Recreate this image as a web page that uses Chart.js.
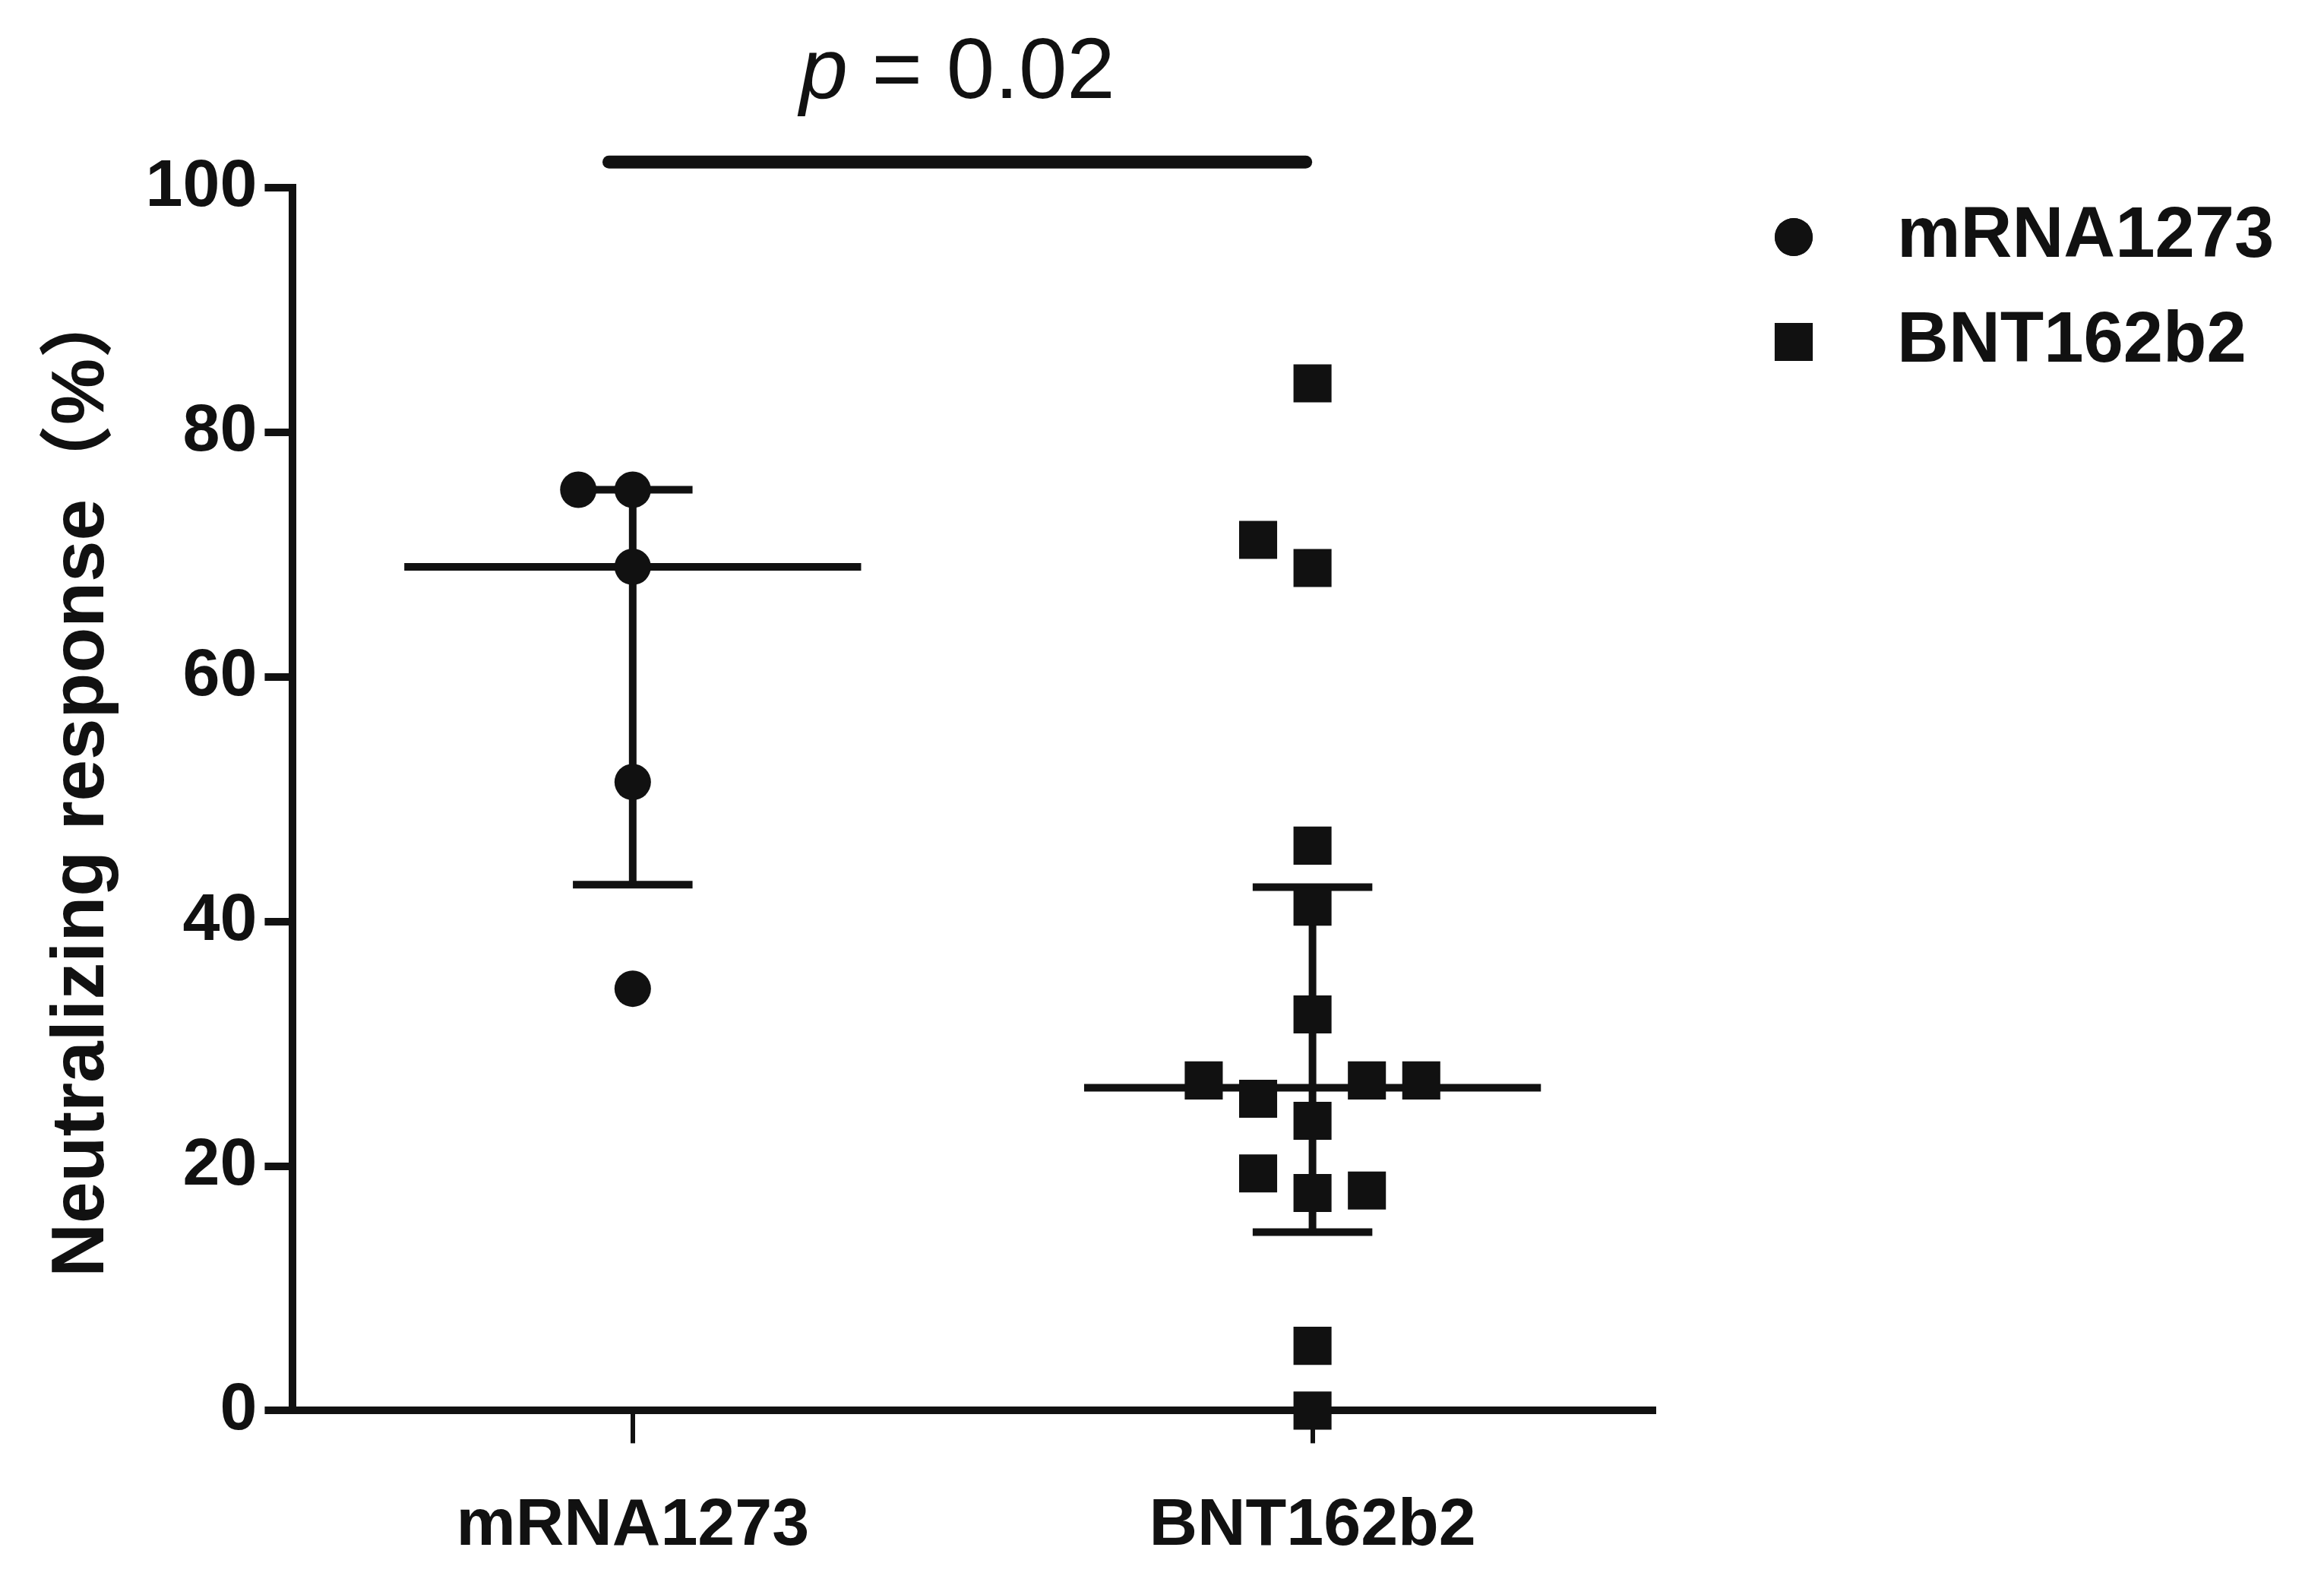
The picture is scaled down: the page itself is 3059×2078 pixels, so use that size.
<!DOCTYPE html>
<html>
<head>
<meta charset="utf-8">
<style>
  html, body { margin: 0; padding: 0; background: #fff; }
  canvas { display: block; }
</style>
</head>
<body>
<canvas id="chart" width="3059" height="2078"></canvas>
<script src="https://cdn.jsdelivr.net/npm/chart.js@4.4.1/dist/chart.umd.min.js"></script>
<script>
// ===== DATA =====
const groups = ["mRNA1273", "BNT162b2"];
const groupPos = [1, 2];
const mrnaValues = [75.3, 75.3, 69.0, 51.4, 34.5];
const mrnaJitter = [-0.08, 0, 0, 0, 0];
const bntValues = [84.0, 71.2, 68.9, 46.2, 41.2, 32.4, 27.0, 25.5, 27.0, 27.0, 23.7, 19.4, 17.8, 18.0, 5.3, 0];
const bntJitter = [0, -0.08, 0, 0, 0, 0, -0.16, -0.08, 0.08, 0.16, 0, -0.08, 0, 0.08, 0, 0];
const medians = [69.0, 26.4];
const q1 = [43.0, 14.6];
const q3 = [75.3, 42.8];
const yTicks = [0, 20, 40, 60, 80, 100];
const sigSpan = [0.965, 1.99];
const sigLevel = 102.1;
const pText = "0.02";

// ===== STYLE =====
const INK = "#111";
const FONT = "'Liberation Sans', Arial, 'Noto Sans CJK SC', sans-serif";
const MEDIAN_HALF = 0.336;
const CAP_HALF = 0.088;

function segment(x1, y1, x2, y2, width, cap) {
  return {
    data: [{ x: x1, y: y1 }, { x: x2, y: y2 }],
    showLine: true,
    borderColor: INK,
    borderWidth: width,
    borderCapStyle: cap || "butt",
    pointRadius: 0,
    clip: false,
    order: 2,
  };
}

const pointSets = [
  { label: groups[0], style: "circle", radius: 24, values: mrnaValues, jitter: mrnaJitter },
  { label: groups[1], style: "rect", radius: 35.4, values: bntValues, jitter: bntJitter },
];

const datasets = [];
groupPos.forEach((c, i) => {
  datasets.push(segment(c - MEDIAN_HALF, medians[i], c + MEDIAN_HALF, medians[i], 10));
  datasets.push(segment(c, q1[i], c, q3[i], 10));
  datasets.push(segment(c - CAP_HALF, q3[i], c + CAP_HALF, q3[i], 10));
  datasets.push(segment(c - CAP_HALF, q1[i], c + CAP_HALF, q1[i], 10));
});
datasets.push(segment(sigSpan[0], sigLevel, sigSpan[1], sigLevel, 17, "round"));

pointSets.forEach((s, i) => {
  datasets.push({
    label: s.label,
    data: s.values.map((v, k) => ({ x: groupPos[i] + s.jitter[k], y: v })),
    pointStyle: s.style,
    pointRadius: s.radius,
    backgroundColor: INK,
    borderColor: INK,
    pointBorderWidth: 0,
    showLine: false,
    clip: false,
    order: 0,
  });
});

// legend drawn at the top right, next to the plot
const groupLegend = {
  id: "groupLegend",
  afterDraw(chart) {
    const ctx = chart.ctx;
    const rows = [312, 450];
    ctx.save();
    pointSets.forEach((s, i) => {
      ctx.fillStyle = INK;
      Chart.helpers.drawPoint(ctx, { pointStyle: s.style, radius: s.style === "circle" ? 25 : 35.4, rotation: 0, borderWidth: 0 }, 2361, rows[i]);
      ctx.fill();
      ctx.font = `bold 94px ${FONT}`;
      ctx.textAlign = "left";
      ctx.textBaseline = "middle";
      ctx.fillText(s.label, 2497, rows[i]);
    });
    ctx.restore();
  }
};

// "p = 0.02" above the comparison bar
const pLabel = {
  id: "pLabel",
  afterDatasetsDraw(chart) {
    const { ctx, scales: { x, y } } = chart;
    const cx = (x.getPixelForValue(sigSpan[0]) + x.getPixelForValue(sigSpan[1])) / 2;
    const base = y.getPixelForValue(sigLevel) - 84;
    ctx.save();
    ctx.fillStyle = INK;
    ctx.textBaseline = "alphabetic";
    ctx.textAlign = "left";
    const italic = `italic 114px ${FONT}`;
    const normal = `114px ${FONT}`;
    ctx.font = italic;
    const wP = ctx.measureText("p").width;
    ctx.font = normal;
    const rest = " = " + pText;
    const wR = ctx.measureText(rest).width;
    const left = cx - (wP + wR) / 2;
    ctx.font = italic;
    ctx.fillText("p", left, base);
    ctx.font = normal;
    ctx.fillText(rest, left + wP, base);
    ctx.restore();
  }
};

new Chart(document.getElementById("chart"), {
  type: "scatter",
  data: { datasets },
  options: {
    responsive: false,
    animation: false,
    devicePixelRatio: 1,
    events: [],
    layout: { padding: { left: 45, top: 247, right: 884, bottom: -41 } },
    plugins: {
      legend: { display: false },
      tooltip: { enabled: false },
    },
    scales: {
      x: {
        type: "linear",
        min: 0.5,
        max: 2.5,
        afterBuildTicks: (scale) => { scale.ticks = groupPos.map(v => ({ value: v })); },
        ticks: {
          callback: (v) => groups[groupPos.indexOf(v)] || "",
          font: { family: FONT, size: 88, weight: "bold" },
          color: INK,
          padding: 57,
          maxRotation: 0,
        },
        grid: { display: true, drawOnChartArea: false, tickLength: 43, tickWidth: 6, tickColor: INK, lineWidth: 10 },
        border: { display: true, width: 10, color: INK },
      },
      y: {
        min: 0,
        max: 100,
        afterBuildTicks: (scale) => { scale.ticks = yTicks.map(v => ({ value: v })); },
        ticks: {
          font: { family: FONT, size: 88, weight: "bold" },
          color: INK,
          padding: 10,
        },
        grid: { display: true, drawOnChartArea: false, tickLength: 37, tickWidth: 10, tickColor: INK, lineWidth: 10 },
        border: { display: true, width: 10, color: INK },
        title: {
          display: true,
          // leading en space balances the blank side of the full-width bracket
          text: "\u2002Neutralizing response（%）",
          font: { family: FONT, size: 98, weight: "bold" },
          color: INK,
          padding: { top: 5, bottom: 14 },
        },
      },
    },
  },
  plugins: [groupLegend, pLabel],
});
</script>
</body>
</html>
